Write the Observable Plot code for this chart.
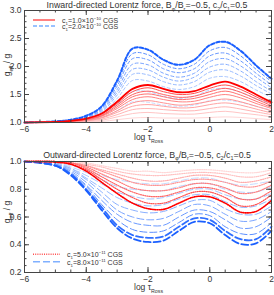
<!DOCTYPE html>
<html><head><meta charset="utf-8">
<script src="https://cdn.jsdelivr.net/npm/d3@7"></script>
<script src="https://cdn.jsdelivr.net/npm/@observablehq/plot@0.6"></script>
<style>
body{margin:0;background:#fff;}
#c svg{display:block;}
</style>
</head><body><div id="c"></div>
<script>
const FONT = "Liberation Sans, Arial, sans-serif";
// log tau_Ross grid
const xGrid = [-6,-5,-4.5,-4,-3.5,-3,-2.5,-2,-1.5,-1,-0.5,0,0.5,1,1.5,2];
// Inward: c1 = 1.0e-10 (red solid), darkest first
const topRed = [
 [1,1.01,1.03,1.07,1.16,1.37,1.60,1.67,1.60,1.54,1.56,1.66,1.73,1.64,1.50,1.36],
 [1,1.01,1.03,1.06,1.15,1.34,1.55,1.62,1.55,1.50,1.52,1.61,1.67,1.59,1.46,1.33],
 [1,1.01,1.03,1.06,1.13,1.31,1.50,1.56,1.50,1.45,1.47,1.55,1.61,1.54,1.42,1.30],
 [1,1.01,1.02,1.05,1.12,1.28,1.46,1.51,1.46,1.41,1.43,1.50,1.56,1.49,1.38,1.27],
 [1,1.01,1.02,1.05,1.11,1.25,1.41,1.46,1.41,1.37,1.38,1.45,1.50,1.44,1.34,1.25],
 [1,1.01,1.02,1.04,1.09,1.21,1.35,1.39,1.35,1.31,1.33,1.38,1.42,1.37,1.29,1.21],
 [1,1.00,1.01,1.03,1.08,1.18,1.29,1.32,1.29,1.26,1.27,1.32,1.35,1.31,1.24,1.17],
 [1,1.00,1.01,1.03,1.06,1.14,1.23,1.25,1.23,1.21,1.21,1.25,1.28,1.24,1.19,1.14],
 [1,1.00,1.01,1.02,1.04,1.10,1.16,1.18,1.16,1.15,1.15,1.18,1.20,1.17,1.14,1.10],
 [1,1.00,1.00,1.01,1.02,1.05,1.08,1.09,1.08,1.08,1.08,1.09,1.10,1.09,1.07,1.05]
];
// Inward: c1 = 2.0e-10 (blue dashed), darkest first
const topBlue = [
 [1,1.02,1.05,1.12,1.29,1.75,2.32,2.30,2.12,2.03,2.12,2.38,2.44,2.28,2.02,1.78],
 [1,1.02,1.05,1.11,1.27,1.70,2.23,2.21,2.04,1.96,2.04,2.28,2.34,2.19,1.95,1.73],
 [1,1.02,1.04,1.10,1.25,1.65,2.14,2.12,1.96,1.89,1.96,2.19,2.24,2.10,1.88,1.67],
 [1,1.02,1.04,1.09,1.23,1.59,2.04,2.03,1.88,1.81,1.88,2.09,2.14,2.01,1.81,1.62],
 [1,1.01,1.04,1.09,1.21,1.54,1.95,1.94,1.81,1.74,1.81,1.99,2.04,1.92,1.73,1.56],
 [1,1.01,1.03,1.08,1.19,1.49,1.86,1.85,1.73,1.67,1.73,1.90,1.94,1.83,1.66,1.51],
 [1,1.01,1.03,1.07,1.17,1.43,1.75,1.74,1.64,1.59,1.64,1.79,1.82,1.73,1.58,1.45],
 [1,1.01,1.02,1.05,1.12,1.32,1.55,1.55,1.47,1.43,1.47,1.58,1.61,1.54,1.43,1.33],
 [1,1.01,1.01,1.03,1.08,1.21,1.37,1.36,1.31,1.29,1.31,1.39,1.40,1.36,1.29,1.22]
];
// Outward: c1 = 5.0e-11 (red dotted), darkest first
const botRed = [
 [1,.995,.98,.93,.85,.77,.70,.66,.655,.70,.745,.745,.70,.635,.64,.72],
 [1,1.0,.98,.94,.87,.80,.74,.70,.70,.74,.78,.78,.74,.68,.69,.76],
 [1,1.0,.99,.95,.89,.83,.78,.75,.75,.78,.81,.81,.78,.73,.73,.79],
 [1,1.0,.99,.96,.91,.86,.81,.79,.79,.81,.84,.84,.81,.77,.78,.83],
 [1,1.0,.99,.97,.93,.89,.85,.83,.83,.85,.87,.87,.85,.82,.82,.86],
 [1,1.0,.99,.97,.94,.91,.88,.86,.86,.88,.90,.90,.88,.85,.86,.89],
 [1,1.0,.99,.98,.96,.93,.91,.90,.90,.91,.92,.92,.91,.89,.89,.92],
 [1,1.0,1.0,.99,.97,.95,.93,.93,.92,.93,.94,.94,.93,.92,.92,.94]
];
// Outward: c1 = 8.0e-11 (blue long dashes), darkest first
const botBlue = [
 [1,.97,.90,.79,.65,.52,.445,.42,.43,.50,.565,.555,.47,.405,.41,.50],
 [1,.97,.91,.80,.67,.54,.47,.45,.46,.53,.59,.58,.50,.44,.44,.53],
 [1,.97,.91,.82,.69,.58,.51,.49,.50,.56,.62,.61,.53,.48,.48,.56],
 [1,.98,.92,.83,.72,.62,.56,.54,.54,.60,.65,.64,.58,.52,.53,.60],
 [1,.98,.93,.85,.75,.65,.60,.58,.59,.64,.69,.68,.62,.57,.58,.64],
 [1,.98,.94,.87,.78,.69,.65,.63,.64,.68,.72,.72,.66,.62,.62,.68],
 [1,.98,.95,.88,.81,.74,.70,.68,.69,.73,.76,.76,.71,.67,.68,.73],
 [1,.99,.95,.90,.84,.78,.75,.73,.74,.77,.80,.80,.76,.73,.73,.77],
 [1,.99,.96,.92,.87,.82,.80,.79,.79,.82,.84,.84,.80,.78,.78,.82],
 [1,.99,.97,.94,.90,.87,.85,.84,.84,.86,.88,.88,.85,.83,.84,.86]
];
const xTicks = [-6,-4,-2,0,2];
const xMinor = d3.range(-6, 2.001, 0.5);
const topYTicks = [1.0,1.5,2.0,2.5,3.0];
const topYMinor = d3.range(1, 3.001, 0.1);
const botYTicks = [0.2,0.4,0.6,0.8,1.0];
const botYMinor = d3.range(0.2, 1.001, 0.05);

(function () {
const W = 274, ML = 24, MR = 3, IW = W - ML - MR;
const rows = a => xGrid.map((x, i) => ({x, y: a[i]}));

// nDark: number of leading curves drawn in the dark colour
function family(arrs, c0, c1, nDark, widthFn, dashFn) {
  const n = arrs.length, ip = d3.interpolateRgb(c0, c1);
  const marks = [];
  for (let i = n - 1; i >= 0; i--) {
    const t = i < nDark ? i * 0.12 : 0.38 + 0.62 * (i - nDark) / (n - 1 - nDark);
    marks.push(Plot.line(rows(arrs[i]), {x: "x", y: "y", curve: "catmull-rom",
      stroke: ip(t), strokeWidth: widthFn(i), strokeDasharray: dashFn(i)}));
  }
  return marks;
}

function panel({height, mt, mb, ydom, yTicks, yMinor, curves}) {
  const IH = height - mt - mb;
  return Plot.plot({
    width: W, height, marginLeft: ML, marginRight: MR, marginTop: mt, marginBottom: mb,
    style: {background: "#fff", fontFamily: FONT, fontSize: "8.5px", color: "#333"},
    x: {domain: [-6, 2]}, y: {domain: ydom},
    marks: [
      ...curves,
      Plot.frame({stroke: "#444"}),
      Plot.tickX(xTicks, {x: d => d, insetTop: IH - 5, stroke: "#444"}),
      Plot.tickX(xTicks, {x: d => d, insetBottom: IH - 5, stroke: "#444"}),
      Plot.tickX(xMinor, {x: d => d, insetTop: IH - 2.5, stroke: "#444"}),
      Plot.tickX(xMinor, {x: d => d, insetBottom: IH - 2.5, stroke: "#444"}),
      Plot.tickY(yTicks, {y: d => d, insetRight: IW - 5, stroke: "#444"}),
      Plot.tickY(yTicks, {y: d => d, insetLeft: IW - 5, stroke: "#444"}),
      Plot.tickY(yMinor, {y: d => d, insetRight: IW - 2.5, stroke: "#444"}),
      Plot.tickY(yMinor, {y: d => d, insetLeft: IW - 2.5, stroke: "#444"}),
      Plot.axisX(xTicks, {tickSize: 0, tickPadding: 3, label: null, fill: "#333"}),
      Plot.axisY(yTicks, {tickSize: 0, tickPadding: 3, label: null, tickFormat: d3.format(".1f"), fill: "#333"})
    ]
  });
}

function rich(svg, x, y, parts, {size = 9, anchor = "start", rotate = 0, fill = "#333"} = {}) {
  const t = svg.append("text").attr("x", x).attr("y", y).attr("text-anchor", anchor)
    .attr("font-size", size).attr("fill", fill).attr("font-family", FONT);
  if (rotate) t.attr("transform", `rotate(${rotate},${x},${y})`);
  let shift = 0;
  for (const [s, k] of parts) {
    const target = k === "sub" ? size * 0.3 : k === "sup" ? -size * 0.4 : 0;
    t.append("tspan").attr("dy", target - shift).attr("font-size", k ? size * 0.62 : size).text(s);
    shift = target;
  }
  return t;
}
const titleParts = dir => [[dir + "-directed Lorentz force, B"], ["φ", "sub"], ["/B"], ["r", "sub"],
  ["=−0.5, c"], ["2", "sub"], ["/c"], ["1", "sub"], ["=0.5"]];
const yLab = [["g"], ["eff", "sub"], [" / g"]];
const xLab = [["log τ"], ["Ross", "sub"]];

// top panel
const topSvg = panel({height: 145, mt: 10, mb: 23, ydom: [1, 3], yTicks: topYTicks, yMinor: topYMinor,
  curves: [
    ...family(topBlue, "#1a5fff", "#c6dcff", 1, i => i === 0 ? 2 : 1, i => i === 0 ? "3.5,2" : "3,2.5"),
    ...family(topRed, "#ff0000", "#ffd6d6", 1, i => i === 0 ? 1.8 : 1, () => null)
  ]});
const s1 = d3.select(topSvg);
rich(s1, 147, 8, titleParts("Inward"), {anchor: "middle", size: 8.8});
rich(s1, 10, 65, yLab, {anchor: "middle", rotate: -90, size: 8.5});
rich(s1, 134, 140, xLab, {anchor: "start", size: 8.5});
s1.append("line").attr("x1", 33).attr("x2", 55).attr("y1", 20).attr("y2", 20).attr("stroke", "#ff3030").attr("stroke-width", 1.2);
s1.append("line").attr("x1", 33).attr("x2", 55).attr("y1", 26).attr("y2", 26).attr("stroke", "#99c2ff").attr("stroke-width", 2).attr("stroke-dasharray", "4,2");
rich(s1, 62, 22.5, [["c"], ["1", "sub"], ["=1.0×10"], ["−10", "sup"], [" CGS"]], {size: 7});
rich(s1, 62, 29, [["c"], ["1", "sub"], ["=2.0×10"], ["−10", "sup"], [" CGS"]], {size: 7});

// bottom panel
const botSvg = panel({height: 150, mt: 16, mb: 23, ydom: [0.2, 1], yTicks: botYTicks, yMinor: botYMinor,
  curves: [
    ...family(botBlue, "#1a5fff", "#c6dcff", 2, i => i < 2 ? 1.8 : 1, () => "7,3"),
    ...family(botRed, "#ff0000", "#ffd6d6", 1, i => i === 0 ? 1.6 : 1.2, () => "1,1.2")
  ]});
const s2 = d3.select(botSvg);
rich(s2, 147, 12.5, titleParts("Outward"), {anchor: "middle", size: 8.8});
rich(s2, 10, 67, yLab, {anchor: "middle", rotate: -90, size: 8.5});
rich(s2, 134, 145, xLab, {anchor: "start", size: 8.5});
s2.append("line").attr("x1", 33).attr("x2", 60).attr("y1", 109.3).attr("y2", 109.3).attr("stroke", "#ff5050").attr("stroke-width", 1.5).attr("stroke-dasharray", "1,1.2");
s2.append("line").attr("x1", 33).attr("x2", 60).attr("y1", 116.7).attr("y2", 116.7).attr("stroke", "#80b0ff").attr("stroke-width", 1.5).attr("stroke-dasharray", "7,3");
rich(s2, 67, 112, [["c"], ["1", "sub"], ["=5.0×10"], ["−11", "sup"], [" CGS"]], {size: 7});
rich(s2, 67, 120, [["c"], ["1", "sub"], ["=8.0×10"], ["−11", "sup"], [" CGS"]], {size: 7});

document.getElementById("c").append(topSvg, botSvg);
})();
</script>
</body></html>
